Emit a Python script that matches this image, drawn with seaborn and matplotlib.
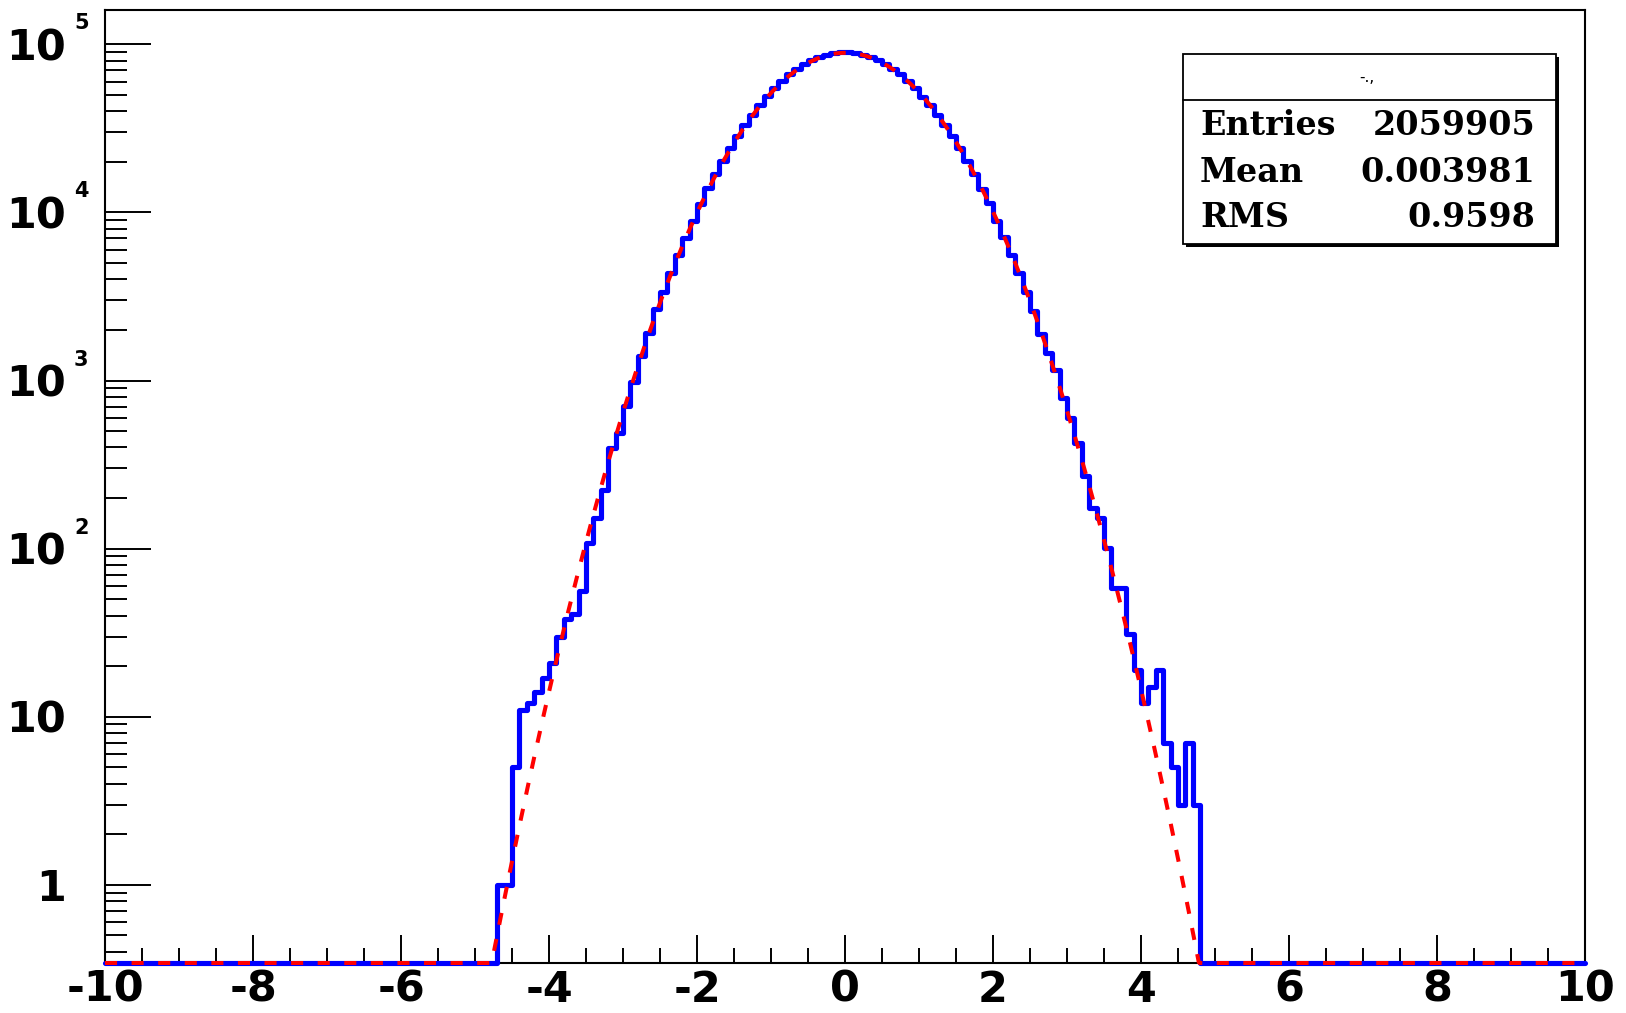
import numpy as np
import pandas as pd
import matplotlib
matplotlib.use("Agg")
import matplotlib.pyplot as plt
import seaborn as sns
from matplotlib.patches import Rectangle
from matplotlib.lines import Line2D
from matplotlib.ticker import LogLocator, NullFormatter, MultipleLocator

# ---------------- data ----------------
hist_xmin, hist_xmax, n_bins = -10.0, 10.0, 200
first_filled_edge = -4.7          # low edge of first non-empty bin

left_tail_counts = [1, 1, 5, 11, 12, 14, 17, 21, 30, 38, 41, 56, 108, 152,
                    224, 397, 488, 703, 977, 1396, 1923, 2648]
core_left_counts = [3355, 4350, 5600, 7090, 8935, 11280, 13900, 16870, 20330,
                    24140, 28460, 33070, 38160, 43390, 48970, 55030, 60760,
                    66180, 71500, 76230, 80570, 84050, 86930, 88750, 89800]
core_right_counts = [89720, 88830, 86840, 84150, 80480, 76310, 71410, 66280,
                     60680, 55110, 48890, 43470, 38080, 33140, 28400, 24200,
                     20290, 16910, 13870, 11330, 8905, 7120, 5580, 4370, 3345]
right_tail_counts = [2585, 1879, 1462, 1161, 789, 600, 426, 269, 175, 152, 101,
                     58, 58, 31, 19, 12, 15, 19, 7, 5, 3, 7, 3]

# Gaussian fit parameters
fit_constant = 89000.0
fit_mean = 0.004
fit_sigma = 0.957

stats_title = "-.,"
stats_labels = ["Entries", "Mean", "RMS"]
stats_values = ["2059905", "0.003981", "0.9598"]

x_tick_values = [-10, -8, -6, -4, -2, 0, 2, 4, 6, 8, 10]
x_tick_labels = ["-10", "-8", "-6", "-4", "-2", "0", "2", "4", "6", "8", "10"]
y_tick_values = [1, 10, 100, 1000, 10000, 100000]
y_tick_bases = ["1", "10", "10", "10", "10", "10"]
y_tick_exps = ["", "", "2", "3", "4", "5"]

y_min, y_max = 0.343, 1.6e5

# ---------------- build histogram ----------------
edges = np.linspace(hist_xmin, hist_xmax, n_bins + 1)
bw = (hist_xmax - hist_xmin) / n_bins
counts = np.zeros(n_bins)
filled = left_tail_counts + core_left_counts + core_right_counts + right_tail_counts
start = int(round((first_filled_edge - hist_xmin) / bw))
counts[start:start + len(filled)] = filled

step_y = np.maximum(np.append(counts, counts[-1]), y_min)
hist_df = pd.DataFrame({"x": edges, "y": step_y})

xf = np.linspace(hist_xmin, hist_xmax, 2001)
yf = fit_constant * np.exp(-0.5 * ((xf - fit_mean) / fit_sigma) ** 2)
fit_df = pd.DataFrame({"x": xf, "y": np.maximum(yf, y_min)})

# ---------------- figure ----------------
sns.set_style("white")
plt.rcParams.update({
    "font.family": ["DejaVu Sans"],
    "text.color": "black",
    "axes.labelcolor": "black",
    "axes.edgecolor": "black",
    "xtick.color": "black",
    "ytick.color": "black",
})

W, H = 1626, 1013
fig = plt.figure(figsize=(W / 100, H / 100), dpi=100)
ax = fig.add_axes([105 / W, 1 - 963 / H, 1480 / W, 953 / H])

sns.lineplot(data=hist_df, x="x", y="y", drawstyle="steps-post", color="#0000ff",
             linewidth=3.7, errorbar=None, ax=ax, clip_on=False, zorder=4)
sns.lineplot(data=fit_df, x="x", y="y", color="#ff0000", linewidth=2.9,
             errorbar=None, ax=ax, clip_on=False, zorder=5)
ax.lines[-1].set_linestyle((0, (3.0, 3.6)))
ax.lines[-1].set_dash_capstyle("butt")

ax.set_yscale("log")
ax.set_xlim(hist_xmin, hist_xmax)
ax.set_ylim(y_min, y_max)
ax.set_xlabel("")
ax.set_ylabel("")

for s in ax.spines.values():
    s.set_linewidth(1.5)
    s.set_color("black")
    s.set_zorder(2)

# x ticks
ax.set_xticks(x_tick_values)
ax.set_xticklabels(x_tick_labels, fontsize=31, fontweight="bold",
                   family="DejaVu Sans", color="black")
ax.xaxis.set_minor_locator(MultipleLocator(0.5))
ax.tick_params(axis="x", which="major", direction="in", length=20.5, width=1.4,
               pad=4, top=False, bottom=True, colors="black")
ax.tick_params(axis="x", which="minor", direction="in", length=11, width=1.4,
               top=False, bottom=True, colors="black")

# y ticks
ax.set_yticks(y_tick_values)
ax.yaxis.set_major_formatter(NullFormatter())
ax.yaxis.set_minor_locator(LogLocator(base=10, subs=np.arange(2, 10), numticks=30))
ax.yaxis.set_minor_formatter(NullFormatter())
ax.tick_params(axis="y", which="major", direction="in", length=33, width=1.4,
               left=True, right=False, colors="black")
ax.tick_params(axis="y", which="minor", direction="in", length=16, width=1.4,
               left=True, right=False, colors="black")

px = 0.72  # points per pixel at dpi 100
for v, base, ex in zip(y_tick_values, y_tick_bases, y_tick_exps):
    ax.annotate(base, xy=(0, v), xycoords=("axes fraction", "data"),
                xytext=(-39 * px, -16 * px), textcoords="offset points",
                ha="right", va="baseline", fontsize=31, fontweight="bold",
                color="black", annotation_clip=False)
    if ex != "":
        ax.annotate(ex, xy=(0, v), xycoords=("axes fraction", "data"),
                    xytext=(-31 * px, 15 * px), textcoords="offset points",
                    ha="left", va="baseline", fontsize=15, fontweight="bold",
                    color="black", annotation_clip=False)

# ---------------- stats box ----------------
bx0, bx1, by_top, by_bot = 1183, 1556, 54, 244
shadow = Rectangle(((bx0 + 3) / W, 1 - (by_bot + 3) / H), (bx1 - bx0) / W,
                   (by_bot - by_top) / H, transform=fig.transFigure,
                   facecolor="black", edgecolor="black", lw=0, zorder=10)
box = Rectangle((bx0 / W, 1 - by_bot / H), (bx1 - bx0) / W, (by_bot - by_top) / H,
                transform=fig.transFigure, facecolor="white", edgecolor="black",
                lw=1.3, zorder=11)
fig.add_artist(shadow)
fig.add_artist(box)
fig.add_artist(Line2D([bx0 / W, bx1 / W], [1 - 100 / H, 1 - 100 / H],
                      transform=fig.transFigure, color="black", lw=1.3, zorder=12))
fig.text(1367 / W, 1 - 77 / H, stats_title, ha="center", va="center",
         fontsize=11, color="black", zorder=13)
baselines = [135, 181.7, 226.7]
for lab, val, b in zip(stats_labels, stats_values, baselines):
    fig.text(1200 / W, 1 - b / H, lab, ha="left", va="baseline", fontsize=24,
             fontweight="bold", family="DejaVu Serif", color="black", zorder=13)
    fig.text(1535 / W, 1 - b / H, val, ha="right", va="baseline", fontsize=24,
             fontweight="bold", family="DejaVu Serif", color="black", zorder=13)

fig.savefig("out.png", dpi=100, facecolor="white")
